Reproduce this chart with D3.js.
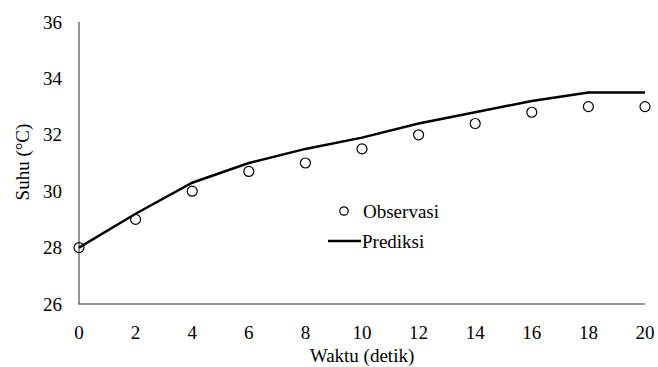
<!DOCTYPE html>
<html><head><meta charset="utf-8">
<script src="https://cdn.jsdelivr.net/npm/d3@7"></script>
<style>
body{margin:0;background:#fff}
svg text{font-size:19px;fill:#000}
</style>
</head><body>
<script>
const waktu = [0,2,4,6,8,10,12,14,16,18,20];
const observasi = [28,29,30,30.7,31,31.5,32,32.4,32.8,33,33];
const prediksi = [28,29.2,30.3,31,31.5,31.9,32.4,32.8,33.2,33.5,33.5];
const xTicks = [0,2,4,6,8,10,12,14,16,18,20];
const yTicks = [26,28,30,32,34,36];

function pickFont(cands){
  const c=document.createElement("canvas").getContext("2d");
  const s="Waktu (detik) Observasi 0123";
  c.font="40px monospace"; const base=c.measureText(s).width;
  for(const f of cands){
    c.font="40px '"+f+"', monospace";
    if(Math.abs(c.measureText(s).width-base)>0.5) return "'"+f+"'";
  }
  return "serif";
}
const FONT=pickFont(["Liberation Serif","Times New Roman","Tinos","DejaVu Serif","Noto Serif"])+", serif";

const W=658,H=367;
const svg=d3.select("body").append("svg").attr("width",W).attr("height",H)
  .style("font-family",FONT);
const x=d3.scaleLinear().domain([0,20]).range([79,645]);
const y=d3.scaleLinear().domain([26,36]).range([304,22]);

svg.append("line").attr("x1",x(0)).attr("x2",x(0)).attr("y1",y(36)).attr("y2",y(26))
  .attr("stroke","#707070").attr("stroke-width",1.5);
svg.append("line").attr("x1",x(0)-0.75).attr("x2",x(20)).attr("y1",y(26)).attr("y2",y(26))
  .attr("stroke","#707070").attr("stroke-width",1.5);

svg.selectAll(".yt").data(yTicks).enter().append("text").style("font-family",FONT)
  .attr("x",62).attr("y",d=>y(d)).attr("dy","0.35em").attr("text-anchor","end").text(d=>d);
svg.selectAll(".xt").data(xTicks).enter().append("text").style("font-family",FONT)
  .attr("x",d=>x(d)).attr("y",339).attr("text-anchor","middle").text(d=>d);

svg.append("text").style("font-family",FONT).attr("x",362).attr("y",362).attr("text-anchor","middle").text("Waktu (detik)");
svg.append("text").style("font-family",FONT).attr("transform","translate(29,162) rotate(-90)").attr("text-anchor","middle").text("Suhu (°C)");

const data=waktu.map((t,i)=>({t,o:observasi[i],p:prediksi[i]}));
svg.append("path").datum(data).attr("fill","none").attr("stroke","#000").attr("stroke-width",2.5)
  .attr("d",d3.line().x(d=>x(d.t)).y(d=>y(d.p)));
svg.selectAll(".obs").data(data).enter().append("circle")
  .attr("cx",d=>x(d.t)).attr("cy",d=>y(d.o)).attr("r",5)
  .attr("fill","none").attr("stroke","#000").attr("stroke-width",1.2);

svg.append("circle").attr("cx",344).attr("cy",211).attr("r",4.2).attr("fill","none")
  .attr("stroke","#000").attr("stroke-width",1.2);
svg.append("text").style("font-family",FONT).attr("x",363).attr("y",211).attr("dy","0.35em").text("Observasi");
svg.append("line").attr("x1",328).attr("x2",361).attr("y1",241).attr("y2",241)
  .attr("stroke","#000").attr("stroke-width",2.5);
svg.append("text").style("font-family",FONT).attr("x",362).attr("y",241).attr("dy","0.35em").text("Prediksi");
</script>
</body></html>
